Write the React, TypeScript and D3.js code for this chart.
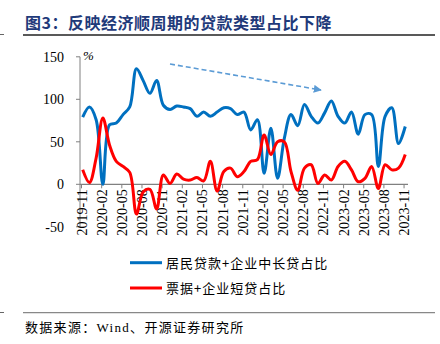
import React from "react";
import * as d3 from "d3";

const months: string[] = (() => {
  const out: string[] = [];
  let y = 2019, m = 11;
  for (let i = 0; i < 49; i++) {
    out.push(`${y}-${String(m).padStart(2, "0")}`);
    m++;
    if (m > 12) { m = 1; y++; }
  }
  return out;
})();

const tickLabels = ["2019-11","2020-02","2020-05","2020-08","2020-11","2021-02","2021-05","2021-08","2021-11","2022-02","2022-05","2022-08","2022-11","2023-02","2023-05","2023-08","2023-11"];

const longTermShare = [79, 91, 76, 0, 70, 72, 82, 91, 136, 122, 107, 122, 93, 88, 92, 91, 89, 80, 85, 80, 85, 90, 89, 82, 85, 64, 76, 13, 66, 7, 54, 82, 69, 94, 80, 72, 84, 98, 80, 72, 85, 59, 82, 82, 21, 80, 90, 48, 68];
const shortTermShare = [17, 2, 31, 78, 46, 27, 21, 14, -35, -9, -6, -29, 11, 1, 12, 6, 5, 8, 4, 27, -8, 15, 19, 9, 15, 27, 29, 58, 35, 50, 50, 15, -7, 19, 23, 1, 11, 5, 21, 27, 17, 3, 7, 21, -5, 23, 17, 19, 35];

const yTicks = [150, 100, 50, 0, -50];

const seriesNames = ["居民贷款+企业中长贷占比", "票据+企业短贷占比"];
const seriesColors = ["#0070C0", "#FF0000"];

export default function App() {
  const W = 440, H = 344;
  const x0 = 82.7, step = 6.72;
  const x = d3.scaleLinear().domain([0, months.length - 1]).range([x0, x0 + step * (months.length - 1)]);
  const y = d3.scaleLinear().domain([-50, 150]).range([226.8, 56.8]);
  const line = d3.line<number>().x((_, i) => x(i)).y((d) => y(d)).curve(d3.curveCatmullRom.alpha(0.5));
  const serif = "'Liberation Serif', 'Times New Roman', serif";
  const cjk = "'Noto Sans CJK SC', sans-serif";
  const axisColor = "#808080";

  return (
    <svg width={W} height={H} style={{ position: "absolute", left: 0, top: 0, background: "#fff" }}>
      <defs>
        <marker id="arrowhead" viewBox="0 0 10 10" refX="9" refY="5" markerWidth="5" markerHeight="5" orient="auto">
          <path d="M0,0 L10,5 L0,10 z" fill="#5B9BD5" />
        </marker>
      </defs>
      {/* title */}
      <text x={25} y={29} fontFamily={cjk} fontWeight="bold" fontSize={16} letterSpacing={0.5} fill="#1F3A7A">图3：反映经济顺周期的贷款类型占比下降</text>
      <line x1={0} x2={4} y1={34.5} y2={34.5} stroke="#666" strokeWidth={1} />
      <line x1={23} x2={435} y1={35} y2={35} stroke="#222" strokeWidth={1.3} />

      {/* y axis */}
      <line x1={80} x2={80} y1={y(150)} y2={y(-50)} stroke={axisColor} strokeWidth={1} />
      {yTicks.map((t) => (
        <g key={t}>
          <line x1={76} x2={80} y1={y(t)} y2={y(t)} stroke={axisColor} strokeWidth={1} />
          <text x={64} y={y(t) + 5} textAnchor="end" fontFamily={serif} fontSize={14} fill="#000">{t}</text>
        </g>
      ))}
      <text x={83} y={60} fontFamily={serif} fontSize={13} fontStyle="italic" fill="#000">%</text>

      {/* x axis at zero */}
      <line x1={80} x2={408} y1={y(0)} y2={y(0)} stroke={axisColor} strokeWidth={1.2} />
      {tickLabels.map((lab) => {
        const i = months.indexOf(lab);
        const xi = x(i) - 1.2;
        return (
          <g key={lab}>
            <line x1={xi} x2={xi} y1={y(0)} y2={y(0) + 4} stroke={axisColor} strokeWidth={1} />
            <text transform={`translate(${xi + 5},${y(0) + 5}) rotate(-90)`} textAnchor="end" fontFamily={serif} fontSize={14} fill="#000">{lab}</text>
          </g>
        );
      })}

      {/* series */}
      <path d={line(longTermShare) || ""} fill="none" stroke={seriesColors[0]} strokeWidth={3} strokeLinejoin="round" />
      <path d={line(shortTermShare) || ""} fill="none" stroke={seriesColors[1]} strokeWidth={3} strokeLinejoin="round" />

      {/* trend arrow */}
      <line x1={170} y1={64} x2={321} y2={90} stroke="#5B9BD5" strokeWidth={1.6} strokeDasharray="5,3" markerEnd="url(#arrowhead)" />

      {/* legend */}
      {seriesNames.map((n, k) => (
        <g key={n}>
          <line x1={130} x2={162} y1={262.7 + k * 25.3} y2={262.7 + k * 25.3} stroke={seriesColors[k]} strokeWidth={3} />
          <text x={166} y={267.5 + k * 25.3} fontFamily={cjk} fontSize={13} letterSpacing={1} fill="#000">{n}</text>
        </g>
      ))}

      {/* footer */}
      <line x1={0} x2={4} y1={312.5} y2={312.5} stroke="#666" strokeWidth={1} />
      <line x1={23} x2={435} y1={312.7} y2={312.7} stroke="#888" strokeWidth={1.3} />
      <text x={25} y={332} fontFamily={cjk} fontSize={13} letterSpacing={1.3} fill="#000">数据来源：<tspan fontFamily={serif}>Wind</tspan>、开源证券研究所</text>
    </svg>
  );
}
